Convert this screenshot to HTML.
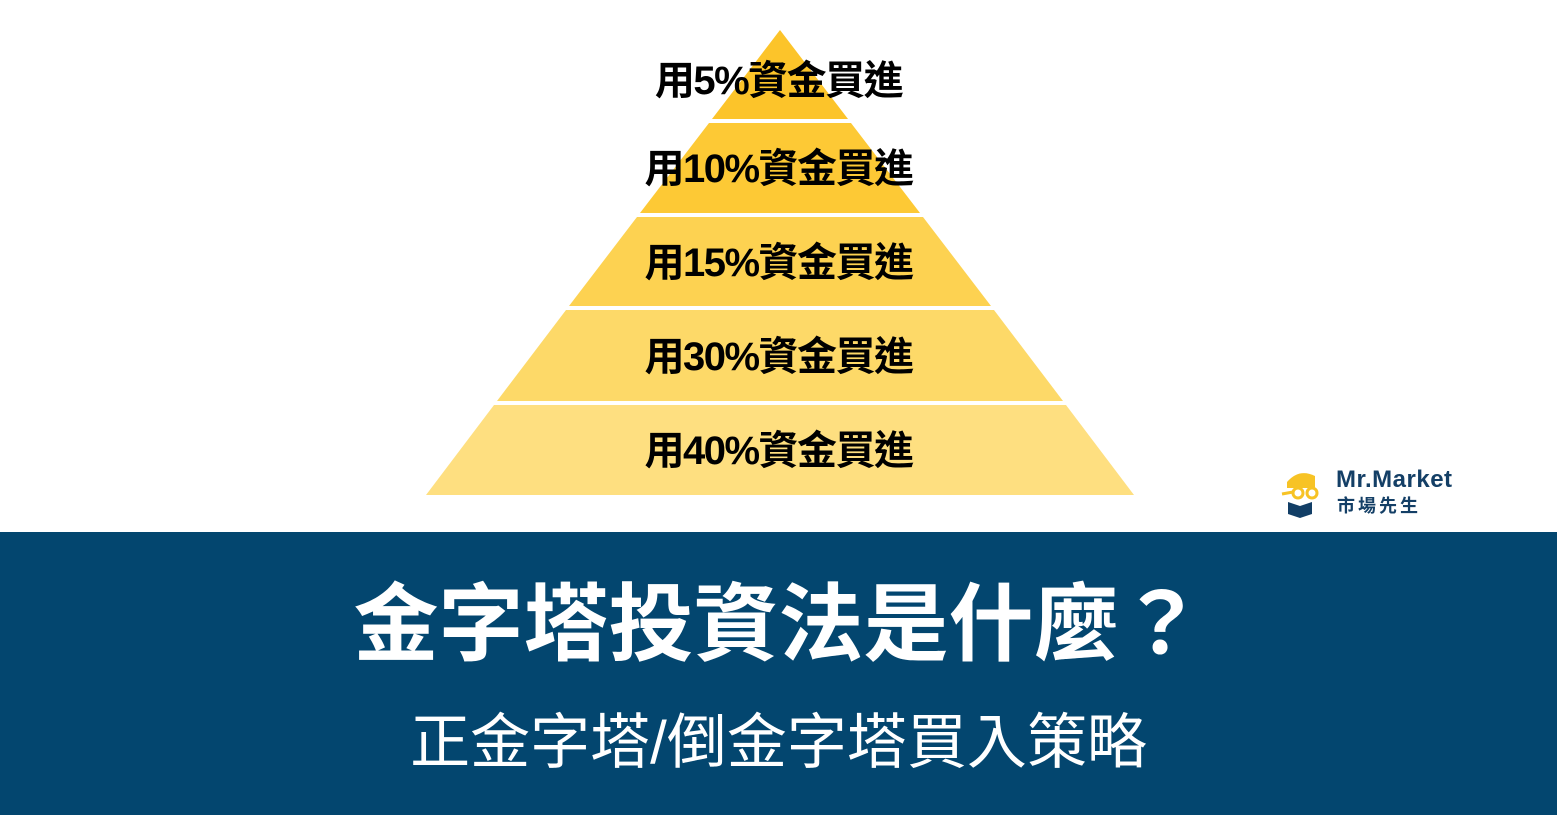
<!DOCTYPE html>
<html><head><meta charset="utf-8"><style>
body{margin:0;width:1557px;height:815px;overflow:hidden;background:#fff;position:relative;font-family:"Liberation Sans","Noto Sans CJK TC",sans-serif}
.t{position:absolute;left:0;width:1557px;text-align:center;white-space:nowrap}
.l{font-weight:bold;font-size:40px;color:#000;letter-spacing:-1.5px;line-height:1}
</style></head><body>
<svg width="1557" height="815" style="position:absolute;left:0;top:0">
<polygon points="780,30 712,119 848,119" fill="#fcc42a"/>
<polygon points="709,123 851,123 920,213 640,213" fill="#fdc935"/>
<polygon points="637,217 923,217 991,306 569,306" fill="#fdd251"/>
<polygon points="566,310 994,310 1063,401 497,401" fill="#fdd968"/>
<polygon points="494,405 1066,405 1134,495 426,495" fill="#fedf80"/>
<rect x="0" y="532" width="1557" height="283" fill="#03466f"/>
<path d="M1287,482 q12,-14 28,-6 v12 h-28z" fill="#f7c325"/>
<circle cx="1298" cy="493" r="5" fill="none" stroke="#f7c325" stroke-width="3"/>
<circle cx="1312" cy="493" r="5" fill="none" stroke="#f7c325" stroke-width="3"/>
<line x1="1282" y1="494" x2="1293" y2="492" stroke="#f7c325" stroke-width="3"/>
<path d="M1288,502 l12,4 12,-4 v12 l-12,4 -12,-4z" fill="#123e66"/>
</svg>
<div class="t l" style="top:61px">用5%資金買進</div>
<div class="t l" style="top:149px">用10%資金買進</div>
<div class="t l" style="top:243px">用15%資金買進</div>
<div class="t l" style="top:337px">用30%資金買進</div>
<div class="t l" style="top:431px">用40%資金買進</div>
<div style="position:absolute;left:1336px;top:468px;font-weight:bold;font-size:24px;color:#143f66;line-height:1;letter-spacing:0.5px">Mr.Market</div>
<div style="position:absolute;left:1337px;top:497px;font-weight:bold;font-size:18px;color:#143f66;letter-spacing:3px;line-height:1">市場先生</div>
<div class="t" style="top:583px;font-size:85px;font-weight:bold;color:#fff;line-height:1">金字塔投資法是什麼？</div>
<div class="t" style="top:713px;font-size:60px;color:#fff;line-height:1">正金字塔/倒金字塔買入策略</div>
</body></html>
